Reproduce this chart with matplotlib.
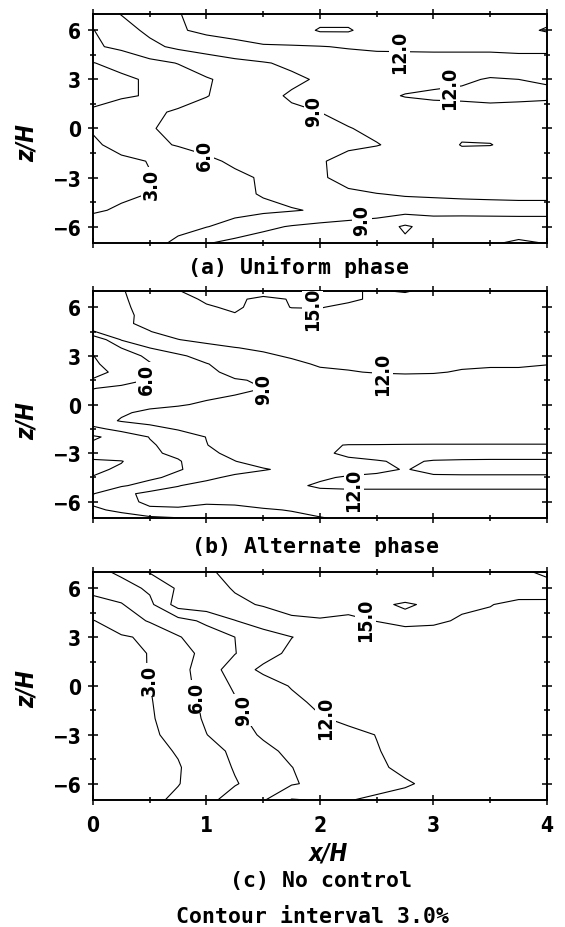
import numpy as np
import matplotlib
matplotlib.use("Agg")
import matplotlib.pyplot as plt
from matplotlib import font_manager as fm
from matplotlib.ticker import MultipleLocator


def have_font(name):
    try:
        fm.findfont(fm.FontProperties(family=name), fallback_to_default=False)
        return True
    except ValueError:
        return False


NARROW = have_font('Liberation Sans Narrow')
plt.rcParams['font.family'] = ['Liberation Sans Narrow', 'DejaVu Sans'] if NARROW else ['DejaVu Sans']
plt.rcParams['font.weight'] = 'bold'
plt.rcParams['font.stretch'] = 'condensed'
TICK_SIZE = 17 if NARROW else 15
LABEL_SIZE = 16 if NARROW else 14

# grid positions (x/H across, z/H up)
x_h = [0, 0.25, 0.5, 0.75, 1, 1.25, 1.5, 1.75, 2, 2.25, 2.5, 2.75, 3, 3.25, 3.5, 3.75, 4]
z_ac = [7, 6, 5, 4, 3, 2, 1, 0, -1, -2, -3, -4, -5, -6, -7]
z_b = [7, 6.5, 6, 5.5, 5, 4.5, 4, 3.5, 3, 2.5, 2, 1.5, 1, 0.5, 0,
       -0.5, -1, -1.5, -2, -2.5, -3, -3.5, -4, -4.5, -5, -5.5, -6, -6.5, -7]

# (a) uniform phase, rows top (z=7) to bottom (z=-7)
uniform = [
    [7.5, 9.1, 10.6, 11.9, 12.8, 13.2, 13.3, 13.5, 13.6, 13.6, 13.5, 13.5, 13.5, 13.5, 13.5, 13.6, 13.8],
    [5.9, 7.9, 9.6, 11.7, 12.6, 13.0, 13.2, 13.5, 15.3, 15.3, 13.5, 13.3, 13.3, 13.4, 13.5, 14.2, 15.3],
    [5.6, 6.6, 8.3, 9.6, 10.5, 11.2, 11.8, 11.85, 11.9, 12.2, 12.4, 12.4, 12.4, 12.4, 12.4, 12.5, 12.5],
    [2.9, 4.0, 5.2, 6.1, 7.2, 8.2, 8.8, 9.5, 10.2, 10.7, 11.0, 11.1, 11.2, 11.2, 11.2, 11.3, 11.3],
    [1.8, 2.4, 3.4, 4.6, 5.8, 6.7, 7.6, 8.5, 9.3, 10.2, 10.9, 11.2, 11.5, 11.8, 12.1, 12.0, 11.9],
    [2.3, 2.7, 3.2, 4.6, 5.9, 7.0, 8.3, 9.3, 10.0, 10.8, 11.5, 12.1, 12.3, 12.3, 12.4, 12.3, 12.2],
    [3.3, 4.3, 5.4, 6.4, 7.0, 7.6, 8.1, 8.6, 9.0, 9.7, 10.4, 10.9, 11.2, 11.4, 11.5, 11.5, 11.5],
    [3.3, 4.6, 5.8, 6.7, 7.3, 7.6, 7.9, 8.2, 8.5, 8.9, 9.5, 10.3, 11.0, 11.5, 11.5, 11.4, 11.6],
    [2.5, 4.0, 5.3, 6.2, 7.0, 7.4, 7.7, 8.0, 8.3, 8.6, 8.9, 9.6, 10.9, 12.1, 12.05, 11.5, 11.6],
    [1.8, 2.4, 3.1, 4.2, 5.4, 6.5, 7.3, 8.0, 8.8, 9.7, 10.3, 10.8, 11.0, 11.0, 11.0, 11.1, 11.2],
    [1.5, 2.1, 2.9, 3.8, 4.6, 5.4, 6.3, 7.3, 8.7, 9.8, 10.4, 10.7, 10.9, 11.0, 11.0, 11.1, 11.2],
    [2.0, 2.6, 3.05, 3.8, 4.5, 5.4, 6.2, 7.0, 8.0, 8.6, 8.95, 9.2, 9.3, 9.4, 9.5, 9.6, 9.6],
    [2.7, 3.3, 4.3, 4.6, 4.9, 5.1, 5.4, 5.8, 6.3, 7.0, 7.6, 7.9, 8.0, 8.1, 8.1, 8.1, 8.1],
    [4.2, 4.7, 5.2, 5.6, 5.9, 7.0, 8.4, 9.2, 9.8, 10.2, 10.5, 12.4, 10.8, 10.7, 10.6, 10.5, 10.5],
    [4.3, 4.8, 5.5, 6.3, 8.8, 9.8, 10.3, 10.6, 10.8, 11.0, 11.2, 11.5, 11.3, 11.4, 11.7, 12.4, 11.9],
]

# (b) alternate phase, rows z=7 to z=-7 in steps of 0.5
alternate = [
    [10.8, 11.8, 13.3, 14.95, 15.5, 15.6, 15.8, 15.6, 15.5, 15.2, 14.8, 15.2, 14.3, 14.0, 14.0, 13.9, 13.8],
    [10.6, 11.7, 13.0, 14.3, 15.3, 15.3, 14.6, 15.1, 15.5, 15.4, 14.6, 14.1, 14.0, 13.9, 13.9, 13.8, 13.7],
    [10.4, 11.6, 12.8, 13.8, 14.8, 15.3, 14.3, 15.05, 15.1, 14.5, 14.0, 13.8, 13.7, 13.6, 13.6, 13.5, 13.5],
    [10.2, 11.5, 12.6, 13.5, 14.2, 14.85, 14.0, 14.3, 14.4, 14.0, 13.7, 13.5, 13.4, 13.3, 13.3, 13.2, 13.2],
    [10.0, 11.7, 12.4, 13.2, 13.7, 14.0, 13.8, 13.9, 13.9, 13.6, 13.4, 13.2, 13.1, 13.0, 13.0, 12.9, 12.9],
    [8.9, 10.2, 11.95, 12.8, 13.2, 13.4, 13.4, 13.4, 13.3, 13.1, 13.0, 12.9, 12.8, 12.7, 12.7, 12.6, 12.6],
    [3.2, 9.2, 10.8, 11.95, 12.6, 12.9, 13.0, 13.0, 12.9, 12.8, 12.7, 12.6, 12.5, 12.5, 12.4, 12.4, 12.4],
    [3.5, 6.05, 9.05, 10.3, 11.3, 11.95, 12.3, 12.5, 12.5, 12.4, 12.3, 12.3, 12.2, 12.2, 12.2, 12.2, 12.2],
    [2.95, 4.6, 6.6, 8.6, 9.9, 10.8, 11.7, 12.2, 12.3, 12.3, 12.2, 12.2, 12.1, 12.1, 12.1, 12.1, 12.1],
    [2.6, 4.3, 5.8, 7.4, 8.9, 10.0, 10.9, 11.6, 12.2, 12.3, 12.3, 12.3, 12.3, 12.2, 12.15, 12.15, 12.05],
    [2.3, 3.6, 5.7, 7.2, 8.5, 9.6, 10.5, 11.2, 11.7, 11.9, 12.1, 12.15, 12.1, 11.9, 11.8, 11.8, 11.6],
    [3.2, 4.6, 6.3, 7.6, 8.2, 8.85, 9.2, 9.9, 10.6, 11.0, 11.3, 11.5, 11.5, 11.4, 11.3, 11.3, 11.2],
    [5.9, 6.8, 7.5, 7.9, 8.2, 8.5, 9.0, 9.6, 10.2, 10.6, 10.9, 11.0, 11.1, 11.0, 11.0, 11.0, 10.9],
    [7.0, 7.5, 7.9, 8.3, 8.7, 9.1, 9.5, 9.9, 10.3, 10.6, 10.8, 10.9, 10.9, 10.9, 10.9, 10.9, 10.8],
    [7.3, 7.9, 8.4, 8.8, 9.3, 9.6, 9.9, 10.2, 10.4, 10.6, 10.7, 10.8, 10.8, 10.8, 10.8, 10.8, 10.8],
    [7.5, 8.7, 9.5, 9.8, 10.0, 10.2, 10.3, 10.5, 10.6, 10.7, 10.7, 10.8, 10.8, 10.8, 10.8, 10.8, 10.8],
    [7.8, 9.2, 9.7, 9.8, 10.0, 10.1, 10.3, 10.4, 10.6, 10.7, 10.8, 10.9, 11.0, 11.0, 11.0, 11.0, 11.0],
    [5.2, 7.0, 8.3, 9.2, 9.6, 9.9, 10.1, 10.3, 10.5, 10.7, 10.9, 11.0, 11.1, 11.1, 11.2, 11.2, 11.2],
    [2.6, 4.0, 6.1, 7.8, 9.05, 9.8, 10.1, 10.4, 10.7, 11.0, 11.2, 11.4, 11.5, 11.5, 11.6, 11.6, 11.6],
    [3.5, 4.6, 5.7, 7.0, 8.95, 9.9, 10.5, 11.0, 11.8, 12.05, 12.05, 12.06, 12.06, 12.06, 12.05, 12.05, 12.05],
    [4.0, 4.8, 5.6, 6.5, 8.5, 9.6, 10.4, 11.0, 11.6, 12.4, 12.6, 12.7, 12.7, 12.6, 12.5, 12.5, 12.5],
    [2.7, 2.9, 4.4, 5.8, 7.5, 8.95, 10.0, 10.8, 11.3, 11.6, 11.9, 12.2, 11.9, 11.85, 11.85, 11.85, 11.85],
    [2.6, 3.3, 4.5, 5.8, 7.0, 8.0, 8.8, 9.6, 10.5, 11.1, 11.6, 12.1, 11.5, 11.4, 11.4, 11.4, 11.4],
    [3.1, 4.2, 5.5, 6.7, 8.4, 9.6, 10.3, 10.9, 11.7, 12.25, 12.4, 12.4, 12.3, 12.3, 12.3, 12.3, 12.3],
    [4.6, 5.7, 7.0, 8.9, 9.9, 10.5, 11.0, 11.6, 12.3, 12.4, 12.4, 12.4, 12.4, 12.4, 12.4, 12.4, 12.4],
    [5.9, 8.2, 9.8, 9.9, 10.3, 10.6, 10.9, 11.1, 11.4, 11.5, 11.5, 11.5, 11.5, 11.5, 11.5, 11.5, 11.5],
    [6.5, 8.2, 9.5, 9.6, 9.3, 9.4, 9.8, 10.2, 10.5, 10.7, 10.8, 10.9, 10.9, 10.9, 10.9, 11.0, 11.0],
    [5.5, 6.6, 8.6, 8.7, 8.3, 8.4, 8.8, 9.1, 9.6, 10.0, 10.2, 10.3, 10.4, 10.4, 10.5, 10.5, 10.5],
    [3.8, 4.8, 5.4, 5.9, 6.4, 7.2, 8.0, 8.5, 8.9, 9.3, 9.6, 9.8, 9.9, 10.0, 10.0, 10.1, 10.1],
]

# (c) no control, rows z=7 to z=-7
no_control = [
    [8.0, 9.6, 12.2, 13.3, 14.7, 15.6, 16.0, 16.2, 16.4, 16.5, 16.6, 16.7, 16.8, 16.9, 17.0, 17.4, 18.6],
    [6.8, 7.8, 9.5, 12.4, 14.0, 15.2, 15.8, 16.0, 16.1, 16.2, 16.2, 16.3, 16.3, 16.4, 16.5, 16.6, 16.8],
    [5.0, 5.8, 8.3, 13.3, 13.8, 14.5, 15.2, 15.4, 15.5, 15.5, 15.3, 14.8, 15.3, 15.3, 15.1, 14.3, 14.2],
    [2.9, 4.2, 6.3, 7.9, 9.6, 11.9, 13.5, 14.8, 14.9, 14.7, 15.05, 15.5, 15.3, 14.8, 14.4, 14.2, 14.1],
    [2.2, 2.8, 3.3, 5.8, 7.5, 9.0, 10.6, 11.95, 12.9, 13.4, 13.8, 14.1, 14.2, 13.9, 13.6, 13.4, 13.3],
    [1.8, 2.2, 3.1, 4.9, 6.8, 8.9, 10.9, 12.6, 13.2, 13.5, 13.7, 13.8, 13.8, 13.7, 13.6, 13.5, 13.5],
    [1.6, 2.1, 3.1, 5.0, 7.4, 10.5, 12.6, 13.2, 13.4, 13.5, 13.6, 13.7, 13.7, 13.6, 13.5, 13.4, 13.4],
    [1.5, 2.1, 2.95, 4.9, 7.1, 9.4, 10.6, 12.2, 13.0, 13.3, 13.4, 13.5, 13.5, 13.4, 13.4, 13.3, 13.3],
    [1.4, 2.0, 2.8, 4.6, 6.6, 8.7, 10.0, 11.3, 12.6, 13.1, 13.3, 13.4, 13.4, 13.4, 13.3, 13.3, 13.3],
    [1.3, 1.9, 2.7, 4.3, 6.4, 8.4, 9.9, 10.9, 11.8, 12.5, 13.0, 13.3, 13.3, 13.3, 13.3, 13.2, 13.2],
    [1.2, 1.8, 2.5, 3.9, 5.95, 7.6, 9.4, 10.3, 10.9, 11.4, 12.05, 12.8, 13.1, 13.2, 13.2, 13.2, 13.1],
    [1.1, 1.6, 2.2, 3.2, 4.6, 6.7, 8.2, 9.7, 10.6, 11.2, 11.9, 12.6, 12.9, 13.0, 13.0, 13.0, 13.0],
    [1.0, 1.5, 2.0, 2.8, 4.5, 6.2, 7.6, 8.95, 10.2, 11.0, 11.7, 12.4, 12.8, 12.9, 12.9, 12.9, 12.9],
    [1.0, 1.5, 2.1, 2.9, 4.3, 5.8, 7.2, 8.7, 9.8, 10.6, 11.2, 11.8, 12.4, 12.7, 12.8, 12.8, 12.8],
    [1.1, 1.6, 2.4, 3.5, 5.2, 7.2, 8.7, 12.2, 11.8, 11.9, 12.4, 12.6, 12.7, 12.8, 12.8, 12.8, 12.8],
]

levels = [3, 6, 9, 12, 15, 18]

# where the contour labels sit (x/H, z/H)
labels_a = [(0.52, -3.4), (0.97, -1.8), (1.93, 0.8), (2.7, 4.8), (3.15, 2.2), (2.37, -5.5)]
labels_b = [(0.47, 1.6), (1.57, 0.6), (1.93, 5.4), (2.55, 2.3), (2.3, -4.9)]
labels_c = [(0.48, 0.35), (0.9, -0.65), (1.31, -1.5), (2.04, -2.05), (2.41, 4.3)]

fig = plt.figure(figsize=(5.65, 9.28), dpi=100)

panels = [
    (z_ac, uniform, [0.1646, 0.7371, 0.8035, 0.2468], labels_a, 0.44),
    (z_b, alternate, [0.1646, 0.4407, 0.8035, 0.2446], labels_b, 0.43),
    (z_ac, no_control, [0.1646, 0.1369, 0.8035, 0.2457], labels_c, 0.49),
]

for i, (zg, vals, rect, lab_pos, ylab_y) in enumerate(panels):
    ax = fig.add_axes(rect)
    zz = np.array(zg)[::-1]
    Z = np.array(vals)[::-1]
    ax.set_xlim(0, 4)
    ax.set_ylim(-7, 7)
    cs = ax.contour(x_h, zz, Z, levels=levels, colors='black', linewidths=0.8)
    txts = ax.clabel(cs, fmt='%.1f', manual=lab_pos, inline=False, fontsize=LABEL_SIZE)
    for t in txts:
        t.set_rotation(90)
        t.set_fontweight('bold')
        t.set_bbox(dict(facecolor='white', edgecolor='none', pad=0.5))
        t.set_zorder(5)

    ax.set_yticks([-6, -3, 0, 3, 6])
    ax.yaxis.set_minor_locator(MultipleLocator(1.5))
    ax.xaxis.set_major_locator(MultipleLocator(1))
    ax.xaxis.set_minor_locator(MultipleLocator(0.5))
    ax.tick_params(which='both', top=True, right=True, direction='inout', width=1.1)
    ax.tick_params(which='major', length=7, labelsize=TICK_SIZE, pad=5)
    ax.tick_params(which='minor', length=4)
    ax.tick_params(axis='x', which='major', pad=7)
    for s in ax.spines.values():
        s.set_linewidth(1.4)
    if i < 2:
        ax.tick_params(axis='x', labelbottom=False)
    else:
        ax.set_xlabel('x/H', fontsize=17, fontstyle='italic', fontweight='bold')
        ax.xaxis.set_label_coords(0.518, -0.18)
    ax.set_ylabel('z/H', fontsize=17, fontstyle='italic', fontweight='bold')
    ax.yaxis.set_label_coords(-0.12, ylab_y)

cap = dict(ha='center', va='center', family='DejaVu Sans Mono', weight='bold', fontsize=15.5)
fig.text(298 / 565, 1 - 267 / 928, '(a) Uniform phase', **cap)
fig.text(315 / 565, 1 - 547 / 928, '(b) Alternate phase', **cap)
fig.text(321 / 565, 1 - 881 / 928, '(c) No control', **cap)
fig.text(312 / 565, 1 - 917 / 928, 'Contour interval 3.0%', **cap)

fig.savefig('out.png', dpi=100)
